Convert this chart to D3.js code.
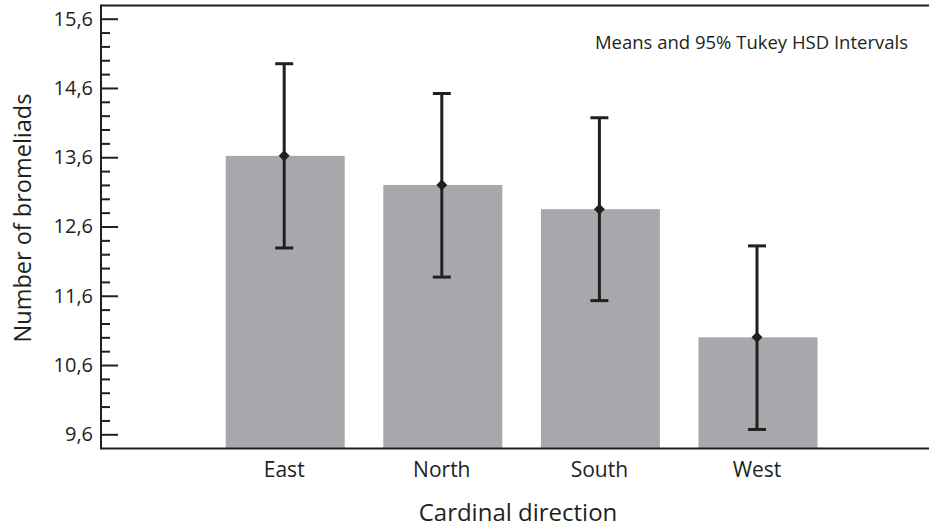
<!DOCTYPE html>
<html>
<head>
<meta charset="utf-8">
<script src="https://cdn.jsdelivr.net/npm/d3@7"></script>
<style>
  html, body { margin: 0; padding: 0; background: #fff; }
  svg { display: block; font-family: "Open Sans", "Noto Sans", sans-serif; }
</style>
</head>
<body>
<svg id="chart" width="929" height="527"></svg>
<script>
const categories = ["East", "North", "South", "West"];
const means = [13.62, 13.20, 12.85, 11.00];
const lowerCI = [12.29, 11.87, 11.53, 9.67];
const upperCI = [14.95, 14.52, 14.17, 12.32];
const majorTicks = [9.6, 10.6, 11.6, 12.6, 13.6, 14.6, 15.6];
const minorTicks = [9.8, 10.0, 10.2, 10.4, 10.8, 11.0, 11.2, 11.4, 11.8, 12.0, 12.2, 12.4,
                    12.8, 13.0, 13.2, 13.4, 13.8, 14.0, 14.2, 14.4, 14.8, 15.0, 15.2, 15.4];
const yTitle = "Number of bromeliads";
const xTitle = "Cardinal direction";
const note = "Means and 95% Tukey HSD Intervals";

const data = categories.map((c, i) => ({ cat: c, mean: means[i], lo: lowerCI[i], hi: upperCI[i] }));

const svg = d3.select("#chart");
const ink = "#231f20";
const axisX = 101, topY = 5.5, baseY = 448.5, rightX = 929;

const y = d3.scaleLinear().domain([9.6, 15.6]).range([434.3, 18.7]);
const x = d3.scaleBand().domain(categories).range([187.1, 856.1]).padding(0.245);

// bars
svg.append("g").selectAll("rect").data(data).join("rect")
  .attr("x", d => x(d.cat))
  .attr("width", x.bandwidth())
  .attr("y", d => y(d.mean))
  .attr("height", d => baseY - y(d.mean))
  .attr("fill", "#a7a8ab");

// error bars
const eg = svg.append("g").selectAll("g").data(data).join("g")
  .attr("transform", d => `translate(${x(d.cat) + x.bandwidth() / 2 - 1},0)`);
eg.append("line").attr("x1", 0).attr("x2", 0)
  .attr("y1", d => y(d.hi)).attr("y2", d => y(d.lo))
  .attr("stroke", ink).attr("stroke-width", 3);
eg.append("line").attr("x1", -9).attr("x2", 9)
  .attr("y1", d => y(d.hi)).attr("y2", d => y(d.hi))
  .attr("stroke", ink).attr("stroke-width", 3);
eg.append("line").attr("x1", -9).attr("x2", 9)
  .attr("y1", d => y(d.lo)).attr("y2", d => y(d.lo))
  .attr("stroke", ink).attr("stroke-width", 3);
eg.append("path")
  .attr("d", d => { const c = y(d.mean); return `M0,${c - 5.5}L5.5,${c}L0,${c + 5.5}L-5.5,${c}Z`; })
  .attr("fill", ink);

// y axis: major ticks with labels
const yAxis = svg.append("g").attr("transform", `translate(${axisX},0)`)
  .call(d3.axisLeft(y).tickValues(majorTicks).tickSize(-17).tickPadding(8)
    .tickFormat(d => d.toFixed(1).replace(".", ",")));
yAxis.select(".domain").remove();
yAxis.selectAll(".tick line").attr("stroke", ink).attr("stroke-width", 2);
yAxis.selectAll(".tick text").attr("fill", ink).style("font-size", "20px")
  .style("font-family", "'Open Sans', sans-serif");

// minor ticks
const yMinor = svg.append("g").attr("transform", `translate(${axisX},0)`)
  .call(d3.axisLeft(y).tickValues(minorTicks).tickSize(-9).tickFormat(""));
yMinor.select(".domain").remove();
yMinor.selectAll(".tick line").attr("stroke", ink).attr("stroke-width", 2);

// x axis labels
const xAxis = svg.append("g").attr("transform", `translate(-1,${baseY})`)
  .call(d3.axisBottom(x).tickSize(0).tickPadding(14));
xAxis.select(".domain").remove();
xAxis.selectAll(".tick text").attr("fill", ink).style("font-size", "21px")
  .style("font-family", "'Open Sans', sans-serif");

// frame lines
svg.append("line").attr("x1", axisX).attr("x2", axisX).attr("y1", topY - 1).attr("y2", baseY + 1)
  .attr("stroke", ink).attr("stroke-width", 2);
svg.append("line").attr("x1", axisX).attr("x2", rightX).attr("y1", topY).attr("y2", topY)
  .attr("stroke", ink).attr("stroke-width", 2);
svg.append("line").attr("x1", axisX).attr("x2", rightX).attr("y1", baseY).attr("y2", baseY)
  .attr("stroke", ink).attr("stroke-width", 2);

// titles
svg.append("text").attr("x", 518).attr("y", 521).attr("text-anchor", "middle")
  .attr("fill", ink).style("font-size", "24px").text(xTitle);
svg.append("text").attr("transform", "translate(31,218) rotate(-90)").attr("text-anchor", "middle")
  .attr("fill", ink).style("font-size", "23.5px").text(yTitle);
svg.append("text").attr("x", 908).attr("y", 49).attr("text-anchor", "end")
  .attr("fill", ink).style("font-size", "18.5px").text(note);
</script>
</body>
</html>
